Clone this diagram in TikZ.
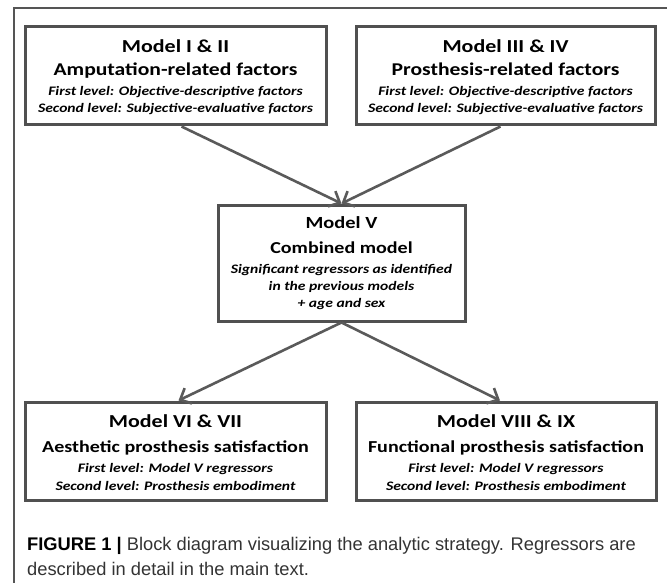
\documentclass[tikz,border=0pt]{standalone}
\usepackage{fontspec}
\setmainfont{Carlito}[FakeStretch=1.2]
\newfontfamily\capfont{Liberation Sans}
\usetikzlibrary{arrows.meta}
\definecolor{boxline}{HTML}{505050}
\definecolor{arrowline}{HTML}{5A5A5A}
\definecolor{frameline}{HTML}{555555}
\definecolor{captext}{HTML}{333333}
\tikzset{
  modelbox/.style={draw=boxline, line width=3pt, rectangle, inner sep=0pt},
  txt/.style={anchor=base, inner sep=0pt},
  ttl/.style={txt, font=\fontsize{18.3}{20}\selectfont\bfseries},
  sub/.style={txt, font=\fontsize{18}{20}\selectfont\bfseries},
  subs/.style={txt, font=\fontsize{16.7}{18}\selectfont\bfseries},
  lvl/.style={txt, font=\fontsize{13}{14}\selectfont\bfseries\itshape},
  flow/.style={draw=arrowline, line width=2.6pt, -{Straight Barb[length=9pt,width=17pt,line width=2.6pt]}},
  captxt/.style={anchor=base west, inner sep=0pt, text=captext, font=\capfont\fontsize{18.3}{20}\selectfont}
}
\begin{document}
\begin{tikzpicture}[x=1pt,y=-1pt]
\useasboundingbox (0,0) rectangle (667,583);
\draw[frameline, line width=1.3pt] (14,590) -- (14,8) -- (680,8);

\node[modelbox, minimum width=301pt, minimum height=98pt] (b1) at (175.5,76) {};
\node[modelbox, minimum width=299pt, minimum height=98pt] (b2) at (505.5,76) {};
\node[modelbox, minimum width=247pt, minimum height=116pt] (b5) at (341.5,263) {};
\node[modelbox, minimum width=301pt, minimum height=98pt] (b6) at (175.5,451) {};
\node[modelbox, minimum width=300pt, minimum height=98pt] (b8) at (506,451) {};

\node[ttl] (t1a) at (175.5,53) {Model I \& II};
\node[sub] (t1b) at (175.5,76) {Amputation-related factors};
\node[lvl] (t1c) at (175.5,96) {First level: Objective-descriptive factors};
\node[lvl] (t1d) at (175.5,113) {Second level: Subjective-evaluative factors};

\node[ttl] (t2a) at (505.5,53) {Model III \& IV};
\node[sub] (t2b) at (505.5,76) {Prosthesis-related factors};
\node[lvl] (t2c) at (505.5,96) {First level: Objective-descriptive factors};
\node[lvl] (t2d) at (505.5,113) {Second level: Subjective-evaluative factors};

\node[ttl, font=\fontsize{17}{20}\selectfont\bfseries] (t5a) at (341.5,228) {Model V};
\node[subs] (t5b) at (341.5,253) {Combined model};
\node[lvl] (t5c) at (341.5,273) {Significant regressors as identified};
\node[lvl] (t5d) at (341.5,290) {in the previous models};
\node[lvl] (t5e) at (341.5,307) {+ age and sex};

\node[ttl] (t6a) at (175.5,427) {Model VI \& VII};
\node[subs] (t6b) at (175.5,452) {Aesthetic prosthesis satisfaction};
\node[lvl] (t6c) at (175.5,472) {First level: Model V regressors};
\node[lvl] (t6d) at (175.5,490) {Second level: Prosthesis embodiment};

\node[ttl] (t8a) at (506,427) {Model VIII \& IX};
\node[subs] (t8b) at (506,452) {Functional prosthesis satisfaction};
\node[lvl] (t8c) at (506,472) {First level: Model V regressors};
\node[lvl] (t8d) at (506,490) {Second level: Prosthesis embodiment};

\draw[flow] ([xshift=6pt]b1.south) -- (b5.north);
\draw[flow] ([xshift=-5pt]b2.south) -- (b5.north);
\draw[flow] (b5.south) -- ([xshift=3pt]b6.north);
\draw[flow] (b5.south) -- ([xshift=-6pt]b8.north);

\node[captxt] (cap1) at (27,550) {\textcolor{black}{\bfseries FIGURE 1 |} Block diagram visualizing the analytic strategy. Regressors are};
\node[captxt] (cap2) at (27,575) {described in detail in the main text.};
\end{tikzpicture}
\end{document}
